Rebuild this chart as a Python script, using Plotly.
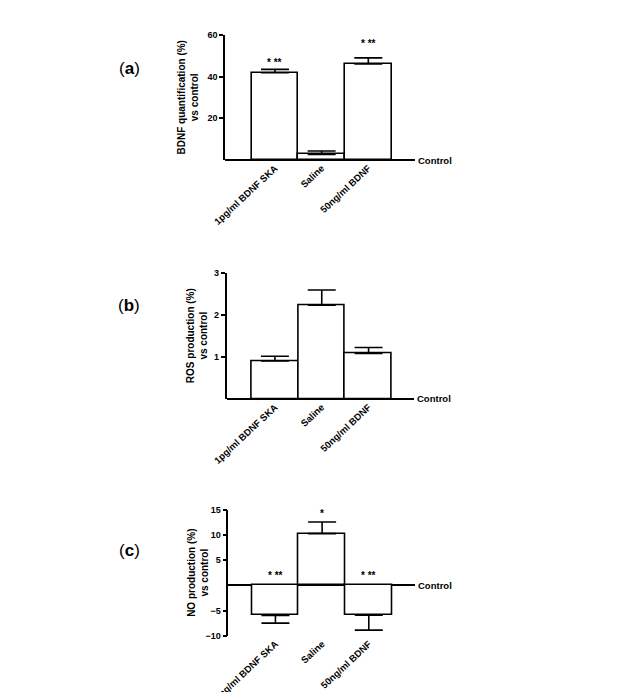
import plotly.graph_objects as go

groups = ["1pg/ml BDNF SKA", "Saline", "50ng/ml BDNF"]

bdnf_vals = [41.9, 2.7, 46.1]
bdnf_err = [1.6, 1.6, 2.9]
bdnf_stars = ["* **", "", "* **"]
bdnf_star_y = [46.7, None, 55.7]

ros_vals = [0.91, 2.24, 1.09]
ros_err = [0.11, 0.36, 0.14]

no_vals = [-5.95, 10.3, -5.9]
no_err = [1.55, 2.3, 3.0]
no_stars = ["* **", "*", "* **"]
no_star_y = [2.0, 14.3, 2.0]

# page body has an 8px margin, so the figure is 16px smaller than the window
OFF = 8
W, H = 638 - 2 * OFF, 700 - 2 * OFF
FONT = "Liberation Sans"


def fx(px):
    return (px - OFF) / W


def fy(py):
    return (H - (py - OFF)) / H


# panel geometry in window pixels: (x0, x1, ytop, ybottom), x range, y range, ticks
panels = [
    dict(px=(225, 415, 35, 160), xr=[-1.07, 3.0], yr=[0, 60], tv=[20, 40, 60],
         vals=bdnf_vals, err=bdnf_err, stars=bdnf_stars, star_y=bdnf_star_y,
         title="BDNF quantification (%)<br>vs control", tx=188, label="a"),
    dict(px=(226.7, 414, 273.3, 399), xr=[-1.03, 2.97], yr=[0, 3], tv=[1, 2, 3],
         vals=ros_vals, err=ros_err, stars=None, star_y=None,
         title="ROS production (%)<br>vs control", tx=197, label="b"),
    dict(px=(228.3, 415, 510, 635.7), xr=[-1.01, 2.99], yr=[-10, 15], tv=[-10, -5, 5, 10, 15],
         vals=no_vals, err=no_err, stars=no_stars, star_y=no_star_y,
         title="NO production (%)<br>vs control", tx=198, label="c"),
]
label_y = [68, 305, 550]

fig = go.Figure()
annotations = []

for i, p in enumerate(panels):
    n = "" if i == 0 else str(i + 1)
    x0, x1, yt, yb = p["px"]
    xd = [fx(x0), fx(x1)]
    yd = [fy(yb), fy(yt)]
    up = [e if v > 0 else 0 for v, e in zip(p["vals"], p["err"])]
    down = [e if v < 0 else 0 for v, e in zip(p["vals"], p["err"])]
    fig.add_trace(go.Bar(
        x=list(range(len(groups))), y=p["vals"], width=1,
        marker=dict(color="white", line=dict(color="black", width=1.6)),
        error_y=dict(type="data", symmetric=False, array=up, arrayminus=down,
                     color="black", thickness=1.6, width=14),
        xaxis="x" + n, yaxis="y" + n, showlegend=False))
    fig.layout["xaxis" + n] = dict(
        domain=xd, range=p["xr"], anchor="y" + n, showgrid=False, zeroline=False,
        showline=False, ticks="", tickmode="array", tickvals=[0, 1, 2],
        ticktext=groups, tickangle=-43, automargin=False,
        tickfont=dict(family=FONT, size=9.5, color="black", weight="bold"))
    fig.layout["yaxis" + n] = dict(
        domain=yd, range=p["yr"], anchor="x" + n, showgrid=False,
        zeroline=True, zerolinecolor="black", zerolinewidth=2,
        showline=True, linecolor="black", linewidth=1.6, automargin=False,
        ticks="outside", ticklen=4, tickwidth=1.6, tickcolor="black",
        tickmode="array", tickvals=p["tv"],
        tickfont=dict(family=FONT, size=9, color="black", weight="bold"))
    annotations.append(dict(
        xref="x" + n + " domain", x=1, yref="y" + n, y=0, text="<b>Control</b>",
        showarrow=False, xanchor="left", xshift=1,
        font=dict(family=FONT, size=9.5, color="black")))
    annotations.append(dict(
        xref="paper", x=fx(p["tx"]), yref="paper", y=(yd[0] + yd[1]) / 2,
        text="<b>" + p["title"] + "</b>", textangle=-90, showarrow=False,
        xanchor="center", yanchor="middle",
        font=dict(family=FONT, size=10, color="black")))
    annotations.append(dict(
        xref="paper", x=fx(129), yref="paper", y=fy(label_y[i]),
        text="(<b>" + p["label"] + "</b>)", showarrow=False,
        xanchor="center", yanchor="middle",
        font=dict(family=FONT, size=17, color="black")))
    if p["stars"]:
        for j, s in enumerate(p["stars"]):
            if s:
                annotations.append(dict(
                    xref="x" + n, x=j, yref="y" + n, y=p["star_y"][j],
                    text="<b>" + s + "</b>", showarrow=False,
                    xanchor="center", yanchor="middle",
                    font=dict(family=FONT, size=10, color="black")))

fig.update_layout(
    width=W, height=H, margin=dict(l=0, r=0, t=0, b=0),
    paper_bgcolor="white", plot_bgcolor="white",
    annotations=annotations, bargap=0)

fig.write_html("out.html")
